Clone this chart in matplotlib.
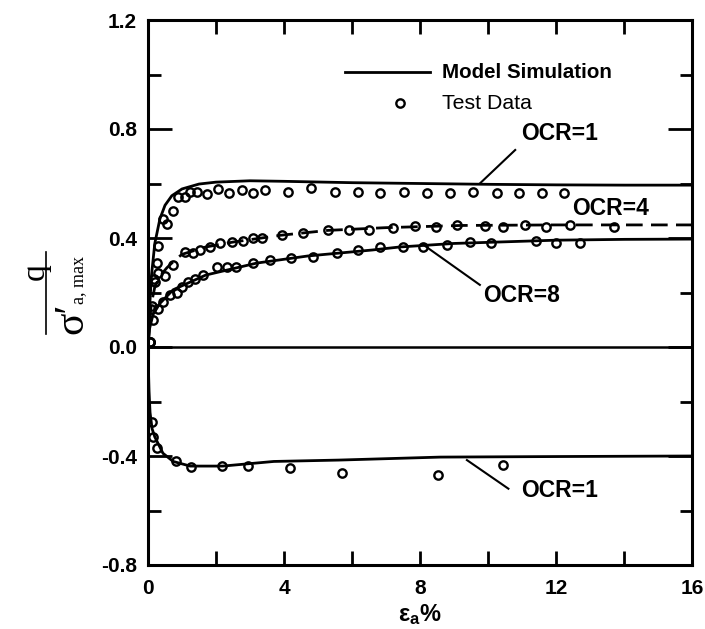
import matplotlib
matplotlib.use("Agg")
import matplotlib.pyplot as plt
from matplotlib.lines import Line2D

plt.rcParams.update({
    "font.family": "Liberation Sans",
    "font.weight": "bold",
    "axes.unicode_minus": False,
    "mathtext.fontset": "custom",
    "mathtext.rm": "Liberation Sans:bold",
    "mathtext.bf": "Liberation Sans:bold",
    "mathtext.it": "Liberation Sans:bold",
})

# model simulations
ocr1_model_x = [0, 0.05, 0.1, 0.2, 0.35, 0.5, 0.7, 1.0, 1.5, 2.0, 3.0, 4.0, 6.0, 8.0, 10, 12, 14, 16]
ocr1_model_y = [0, 0.15, 0.26, 0.38, 0.47, 0.52, 0.555, 0.58, 0.598, 0.605, 0.61, 0.608, 0.603, 0.600,
                0.597, 0.595, 0.594, 0.594]
ocr4_model_x = [0, 0.05, 0.1, 0.2, 0.35, 0.55, 0.8, 1.0, 1.7, 2.5, 3.9, 5.3, 7.0, 9.2, 12, 14, 16]
ocr4_model_y = [0, 0.1, 0.16, 0.22, 0.26, 0.29, 0.32, 0.34, 0.367, 0.385, 0.41, 0.428, 0.438, 0.446,
                0.448, 0.448, 0.448]
ocr8_model_x = [0, 0.05, 0.15, 0.35, 0.74, 1.7, 3.2, 4.7, 6.6, 7.4, 9.0, 12, 14, 16]
ocr8_model_y = [0, 0.07, 0.12, 0.16, 0.21, 0.264, 0.308, 0.334, 0.356, 0.367, 0.38, 0.392, 0.395, 0.396]
ext_model_x = [0, 0.01, 0.03, 0.06, 0.12, 0.2, 0.44, 0.74, 1.24, 2.2, 3.7, 5.6, 8.6, 12, 16]
ext_model_y = [0, -0.07, -0.16, -0.24, -0.3, -0.33, -0.39, -0.42, -0.437, -0.437, -0.42, -0.415,
               -0.404, -0.402, -0.40]

# test data
ocr1_test_x = [0.05, 0.12, 0.18, 0.25, 0.3, 0.43, 0.55, 0.74, 0.89, 1.08, 1.23, 1.43, 1.73, 2.06, 2.39,
               2.75, 3.08, 3.44, 4.12, 4.8, 5.5, 6.18, 6.82, 7.53, 8.2, 8.88, 9.56, 10.26, 10.9, 11.6, 12.24]
ocr1_test_y = [0.02, 0.15, 0.25, 0.31, 0.37, 0.47, 0.45, 0.50, 0.55, 0.55, 0.57, 0.57, 0.56, 0.58, 0.565,
               0.576, 0.565, 0.576, 0.57, 0.583, 0.57, 0.57, 0.565, 0.57, 0.565, 0.565, 0.57, 0.565, 0.565,
               0.565, 0.565]
ocr4_test_x = [0.05, 0.1, 0.2, 0.3, 0.5, 0.74, 1.08, 1.33, 1.53, 1.82, 2.12, 2.46, 2.8, 3.1, 3.35, 3.94,
               4.57, 5.3, 5.9, 6.5, 7.2, 7.85, 8.47, 9.1, 9.9, 10.45, 11.1, 11.7, 12.4, 13.7]
ocr4_test_y = [0.02, 0.14, 0.24, 0.27, 0.26, 0.30, 0.35, 0.345, 0.356, 0.367, 0.38, 0.386, 0.39, 0.40,
               0.40, 0.41, 0.42, 0.43, 0.43, 0.43, 0.437, 0.444, 0.44, 0.448, 0.444, 0.44, 0.448, 0.44,
               0.448, 0.44]
ocr8_test_x = [0.05, 0.15, 0.3, 0.45, 0.65, 0.85, 1.0, 1.18, 1.38, 1.62, 2.03, 2.32, 2.6, 3.1, 3.6, 4.2,
               4.86, 5.56, 6.18, 6.82, 7.5, 8.1, 8.8, 9.47, 10.1, 11.4, 12.0, 12.7]
ocr8_test_y = [0.02, 0.1, 0.14, 0.165, 0.19, 0.20, 0.22, 0.24, 0.25, 0.264, 0.295, 0.295, 0.295, 0.31,
               0.32, 0.326, 0.33, 0.345, 0.356, 0.367, 0.367, 0.367, 0.374, 0.385, 0.38, 0.39, 0.38, 0.38]
ext_test_x = [0.11, 0.14, 0.25, 0.82, 1.26, 2.17, 2.94, 4.18, 5.7, 8.53, 10.45]
ext_test_y = [-0.275, -0.33, -0.37, -0.42, -0.44, -0.437, -0.437, -0.444, -0.462, -0.47, -0.433]

x_ticks = [0, 4, 8, 12, 16]
y_ticks = [-0.8, -0.4, 0.0, 0.4, 0.8, 1.2]

W, H = 705, 629
fig = plt.figure(figsize=(W / 100, H / 100), dpi=100)
ax = fig.add_axes([148 / W, 64 / H, 544 / W, 545 / H])

LW = 2.0
MK = dict(marker="o", linestyle="none", markersize=6, markerfacecolor="none",
          markeredgecolor="black", markeredgewidth=1.7)

ax.axhline(0, color="black", lw=1.8)
ax.plot(ocr1_model_x, ocr1_model_y, color="black", lw=LW)
ax.plot(ocr4_model_x, ocr4_model_y, color="black", lw=LW, dashes=(6, 3))
ax.plot(ocr8_model_x, ocr8_model_y, color="black", lw=LW)
ax.plot(ext_model_x, ext_model_y, color="black", lw=LW)
for xs, ys in [(ocr1_test_x, ocr1_test_y), (ocr4_test_x, ocr4_test_y),
               (ocr8_test_x, ocr8_test_y), (ext_test_x, ext_test_y)]:
    ax.plot(xs, ys, **MK)

# legend drawn by hand
ax.plot([5.8, 8.3], [1.009, 1.009], color="black", lw=LW)
ax.text(8.65, 1.009, "Model Simulation", fontsize=14.8, fontweight="bold", va="center")
ax.plot([7.4], [0.895], **MK)
ax.text(8.65, 0.895, "Test Data", fontsize=15.3, fontweight="normal", va="center")

# labels with leader lines
lab = dict(fontsize=16.5, fontweight="bold", va="center", ha="center")
ax.text(12.1, 0.785, "OCR=1", **lab)
ax.plot([9.76, 10.8], [0.60, 0.723], color="black", lw=1.5)
ax.text(13.6, 0.51, "OCR=4", **lab)
ax.text(11.0, 0.19, "OCR=8", **lab)
ax.plot([8.1, 9.76], [0.375, 0.228], color="black", lw=1.5)
ax.text(12.1, -0.525, "OCR=1", **lab)
ax.plot([9.38, 10.6], [-0.415, -0.52], color="black", lw=1.5)

ax.set_xlim(0, 16)
ax.set_ylim(-0.8, 1.2)
ax.set_xticks(x_ticks)
ax.set_xticks([2, 6, 10, 14], minor=True)
ax.set_yticks(y_ticks)
ax.set_yticks([-0.6, -0.2, 0.2, 0.6, 1.0], minor=True)
ax.set_yticklabels([f"{v:.1f}" for v in y_ticks])
ax.tick_params(axis="both", which="both", direction="in", width=2, labelsize=15, top=True, right=True)
ax.tick_params(axis="y", which="major", length=17, pad=8)
ax.tick_params(axis="y", which="minor", length=9)
ax.tick_params(axis="x", which="both", length=10, pad=10)
for lbl in ax.get_xticklabels() + ax.get_yticklabels():
    lbl.set_fontweight("bold")
for sp in ax.spines.values():
    sp.set_linewidth(2.2)

ax.set_xlabel(r"ε$_{\mathrm{a}}$%", fontsize=17, fontweight="bold", labelpad=3)

# y label: q over sigma'_{a,max}, rotated, serif
serif = dict(family="Liberation Serif", fontweight="normal", rotation=90, ha="center", va="center")
fig.text(35 / W, 1 - 272 / H, "q", fontsize=24, **serif)
fig.add_artist(Line2D([46 / W, 46 / W], [1 - 252 / H, 1 - 334 / H], color="black", lw=1.2,
                      transform=fig.transFigure))
fig.text(72 / W, 1 - 318 / H, "σ′", fontsize=30, **serif)
fig.text(79 / W, 1 - 280 / H, "a, max", fontsize=13, **serif)

fig.savefig("out.png", dpi=100)
